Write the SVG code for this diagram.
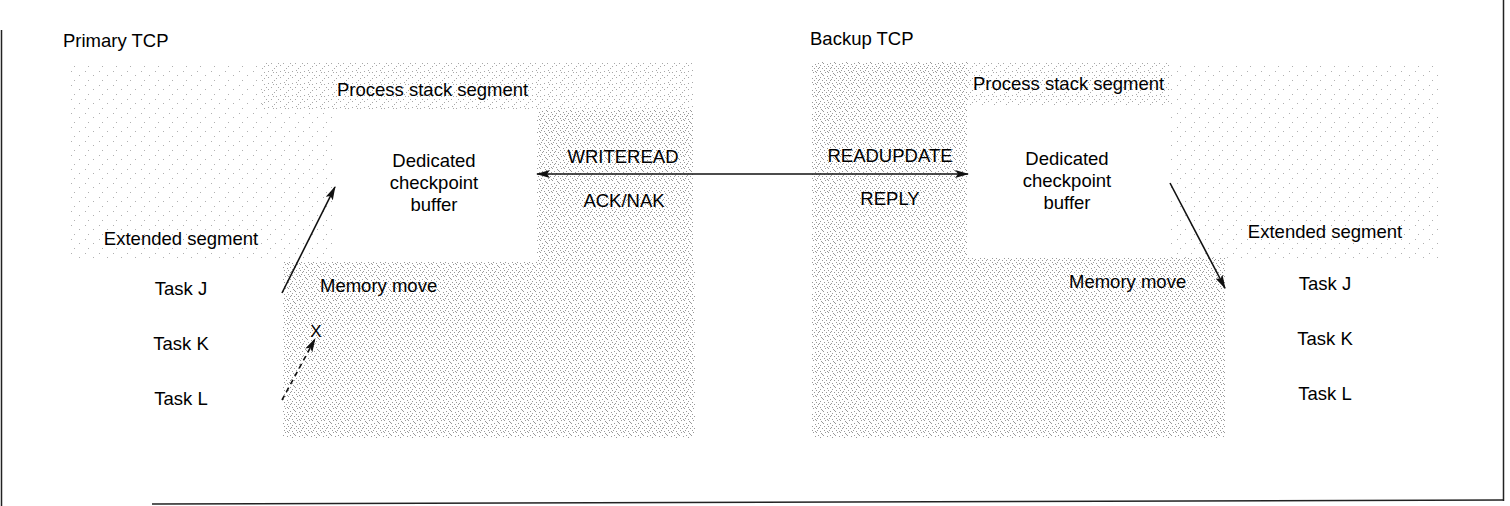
<svg xmlns="http://www.w3.org/2000/svg" width="1510" height="506" viewBox="0 0 1510 506">
<style>
text{font-family:"Liberation Sans",Arial,sans-serif;font-size:18.5px;fill:#000}
.c{text-anchor:middle}
.ln{stroke:#111;stroke-width:1.6;fill:none}
.frame{stroke:#222;stroke-width:1.5;fill:none}
</style>
<defs>
<pattern id="dense" width="12" height="12" patternUnits="userSpaceOnUse">
<g fill="#999">
<rect x="0" y="0" width="1" height="1"/><rect x="5" y="1" width="1" height="1"/><rect x="9" y="0" width="1" height="1"/><rect x="2" y="3" width="1" height="1"/><rect x="7" y="3" width="1" height="1"/><rect x="11" y="4" width="1" height="1"/><rect x="4" y="5" width="1" height="1"/><rect x="0" y="6" width="1" height="1"/><rect x="8" y="6" width="1" height="1"/><rect x="2" y="8" width="1" height="1"/><rect x="6" y="8" width="1" height="1"/><rect x="10" y="8" width="1" height="1"/><rect x="1" y="10" width="1" height="1"/><rect x="4" y="11" width="1" height="1"/><rect x="8" y="10" width="1" height="1"/><rect x="11" y="11" width="1" height="1"/><rect x="6" y="2" width="1" height="1"/><rect x="3" y="7" width="1" height="1"/>
</g>
</pattern>
<pattern id="medium" width="12" height="12" patternUnits="userSpaceOnUse">
<g fill="#a8a8a8">
<rect x="0" y="0" width="1" height="1"/><rect x="9" y="0" width="1" height="1"/><rect x="7" y="3" width="1" height="1"/><rect x="4" y="5" width="1" height="1"/><rect x="0" y="6" width="1" height="1"/><rect x="10" y="8" width="1" height="1"/><rect x="4" y="11" width="1" height="1"/><rect x="8" y="10" width="1" height="1"/><rect x="2" y="3" width="1" height="1"/>
</g>
</pattern>
<pattern id="light" width="14" height="14" patternUnits="userSpaceOnUse">
<g fill="#b0b0b0">
<rect x="1" y="1" width="1" height="1"/><rect x="9" y="5" width="1" height="1"/><rect x="4" y="10" width="1" height="1"/>
</g>
</pattern>
<marker id="ah" viewBox="0 0 14 8" refX="13" refY="4" markerWidth="14" markerHeight="8" markerUnits="userSpaceOnUse" orient="auto-start-reverse">
<path d="M0,0 L14,4 L0,8 L3,4 Z" fill="#111"/>
</marker>
</defs>

<g id="frame">
<line class="frame" x1="1.5" y1="30" x2="1.5" y2="506"/>
<line class="frame" x1="152" y1="504" x2="1503" y2="500"/>
<line class="frame" x1="1503.5" y1="0" x2="1503.5" y2="501"/>
</g>

<g id="shading">
<rect x="67" y="63" width="195" height="195" fill="url(#light)"/>
<rect x="262" y="62" width="431" height="48" fill="url(#medium)"/>
<rect x="262" y="110" width="71" height="152" fill="url(#light)"/>
<rect x="537" y="110" width="156" height="152" fill="url(#dense)"/>
<rect x="283" y="262" width="412" height="176" fill="url(#dense)"/>
<rect x="812" y="62" width="155" height="376" fill="url(#dense)"/>
<rect x="967" y="62" width="203" height="44" fill="url(#medium)"/>
<rect x="967" y="258" width="258" height="180" fill="url(#dense)"/>
<rect x="1170" y="62" width="270" height="196" fill="url(#light)"/>
</g>

<g id="primary-tcp"><text x="63" y="47">Primary TCP</text></g>
<g id="primary-stack"><text x="337" y="96">Process stack segment</text></g>
<g id="primary-buffer">
<text class="c" x="434" y="167">Dedicated</text>
<text class="c" x="434" y="189">checkpoint</text>
<text class="c" x="434" y="211">buffer</text>
</g>
<g id="primary-extended">
<text class="c" x="181" y="245">Extended segment</text>
<text class="c" x="181" y="295">Task J</text>
<text class="c" x="181" y="350">Task K</text>
<text class="c" x="181" y="405">Task L</text>
</g>
<g id="primary-memmove"><text x="320" y="292">Memory move</text></g>
<g id="primary-x"><text class="c" x="316" y="337" style="font-size:17px">X</text></g>

<g id="backup-tcp"><text x="810" y="45">Backup TCP</text></g>
<g id="backup-stack"><text x="973" y="90">Process stack segment</text></g>
<g id="backup-buffer">
<text class="c" x="1067" y="165">Dedicated</text>
<text class="c" x="1067" y="187">checkpoint</text>
<text class="c" x="1067" y="209">buffer</text>
</g>
<g id="backup-extended">
<text class="c" x="1325" y="238">Extended segment</text>
<text class="c" x="1325" y="290">Task J</text>
<text class="c" x="1325" y="345">Task K</text>
<text class="c" x="1325" y="400">Task L</text>
</g>
<g id="backup-memmove"><text x="1069" y="288">Memory move</text></g>

<g id="connectors">
<line class="ln" x1="537" y1="174" x2="968" y2="174" marker-start="url(#ah)" marker-end="url(#ah)"/>
<line class="ln" x1="282" y1="293" x2="335" y2="187" marker-end="url(#ah)"/>
<line class="ln" x1="282" y1="400" x2="315" y2="339" stroke-dasharray="5,4" marker-end="url(#ah)"/>
<line class="ln" x1="1170" y1="183" x2="1225" y2="288" marker-end="url(#ah)"/>
<text class="c" x="623" y="163">WRITEREAD</text>
<text class="c" x="624" y="207">ACK/NAK</text>
<text class="c" x="890" y="162">READUPDATE</text>
<text class="c" x="890" y="205">REPLY</text>
</g>
</svg>
